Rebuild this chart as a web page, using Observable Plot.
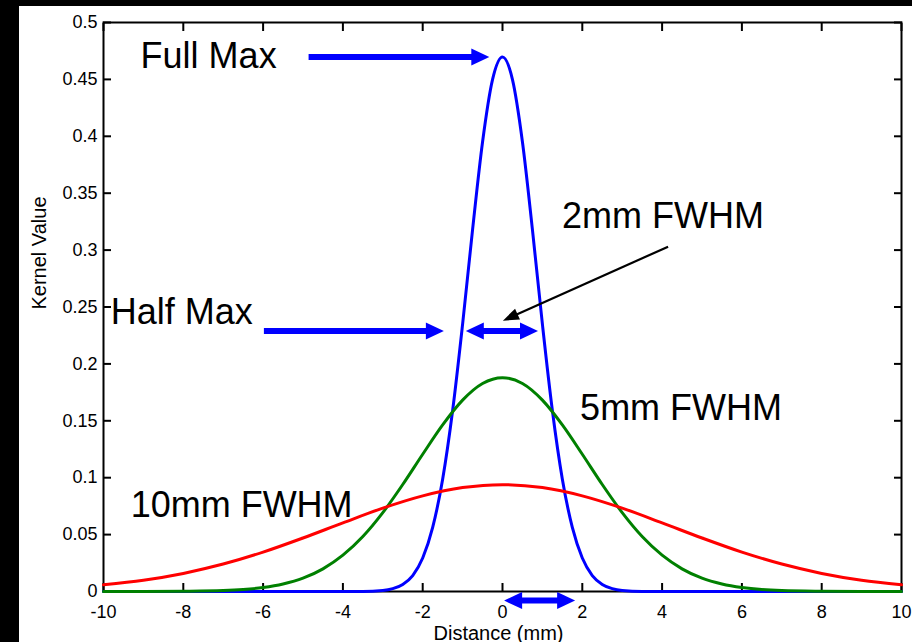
<!DOCTYPE html>
<html><head><meta charset="utf-8">
<script src="https://cdn.jsdelivr.net/npm/d3@7"></script>
<script src="https://cdn.jsdelivr.net/npm/@observablehq/plot@0.6"></script>
<style>
html,body{margin:0;padding:0;background:#000;width:912px;height:642px;overflow:hidden;}
#chart{position:absolute;left:19px;top:6px;}
</style></head><body><div id="chart"></div>
<script>
// ---- data ----
const blueX = [-10, -3.5, -3, -2.75, -2.5, -2.25, -2, -1.75, -1.5, -1.25, -1, -0.75, -0.5, -0.25, 0, 0.25, 0.5, 0.75, 1, 1.25, 1.5, 1.75, 2, 2.25, 2.5, 2.75, 3, 3.5, 10];
const blueY = [0, 0.0001, 0.0009, 0.0025, 0.0062, 0.0140, 0.0294, 0.0563, 0.0987, 0.1590, 0.2349, 0.3180, 0.3950, 0.4498, 0.4697, 0.4498, 0.3950, 0.3180, 0.2349, 0.1590, 0.0987, 0.0563, 0.0294, 0.0140, 0.0062, 0.0025, 0.0009, 0.0001, 0];
const greenX = [-10, -9, -8, -7, -6.5, -6, -5.5, -5, -4.5, -4, -3.5, -3, -2.5, -2, -1.5, -1, -0.5, 0, 0.5, 1, 1.5, 2, 2.5, 3, 3.5, 4, 4.5, 5, 5.5, 6, 6.5, 7, 8, 9, 10];
const greenY = [0, 0, 0.0002, 0.0008, 0.0017, 0.0035, 0.0066, 0.0117, 0.0199, 0.0319, 0.0483, 0.0693, 0.0940, 0.1206, 0.1464, 0.1682, 0.1828, 0.1879, 0.1828, 0.1682, 0.1464, 0.1206, 0.0940, 0.0693, 0.0483, 0.0319, 0.0199, 0.0117, 0.0066, 0.0035, 0.0017, 0.0008, 0.0002, 0, 0];
const redX = [-10, -9, -8, -7, -6, -5, -4, -3, -2, -1, 0, 1, 2, 3, 4, 5, 6, 7, 8, 9, 10];
const redY = [0.0059, 0.0099, 0.0159, 0.0241, 0.0346, 0.0470, 0.0603, 0.0732, 0.0840, 0.0913, 0.0939, 0.0913, 0.0840, 0.0732, 0.0603, 0.0470, 0.0346, 0.0241, 0.0159, 0.0099, 0.0059];

const xTicks = [-10, -8, -6, -4, -2, 0, 2, 4, 6, 8, 10];
const yTicks = [0, 0.05, 0.1, 0.15, 0.2, 0.25, 0.3, 0.35, 0.4, 0.45, 0.5];

const labelText = ["Full Max", "2mm FWHM", "Half Max", "5mm FWHM", "10mm FWHM"];
const labelX = [-9.07, 1.49, -9.82, 1.945, -9.32];
const labelY = [0.4596, 0.319, 0.2355, 0.151, 0.0659];

const fullMaxArrow = {x1: -4.86, x2: -0.33};
const halfMaxArrow = {x1: -5.98, x2: -1.47, y: 0.229};
const fwhmArrow = {x1: -0.92, x2: 0.89, y: 0.229};
const scaleArrow = {x1: 0.04, x2: 1.82, y: -0.008};
const pointer = {x1: 4.15, y1: 0.303, x2: 0.01, y2: 0.238};

// ---- layout ----
const W = 893, H = 636, ML = 84, MR = 11, MT = 16, MB = 51;
const FONT = "Liberation Sans, Arial, Helvetica, sans-serif";

const toRows = (xs, ys) => xs.map((x, i) => ({x, y: ys[i]}));
const blue = toRows(blueX, blueY), green = toRows(greenX, greenY), red = toRows(redX, redY);
fullMaxArrow.y = d3.max(blueY);
const labels = labelText.map((t, i) => ({t, x: labelX[i], y: labelY[i]}));
const fmt = d => String(d);

function tri(L, Wd) {
  return {draw(ctx) { ctx.moveTo(0, 0); ctx.lineTo(-L, -Wd / 2); ctx.lineTo(-L, Wd / 2); ctx.closePath(); }};
}
const blueHead = tri(18, 17), blackHead = tri(16, 12);
const kx = (W - ML - MR) / 20, ky = (H - MT - MB) / 0.5;
const pointerAngle = Math.atan2(-(pointer.y2 - pointer.y1) * ky, (pointer.x2 - pointer.x1) * kx) * 180 / Math.PI;

const rightHeads = [fullMaxArrow, halfMaxArrow, fwhmArrow, scaleArrow].map(a => ({x: a.x2, y: a.y}));
const leftHeads = [fwhmArrow, scaleArrow].map(a => ({x: a.x1, y: a.y}));

const BLUE = "#0000ff", GREEN = "#008000", RED = "#ff0000";

const chart = Plot.plot({
  width: W, height: H,
  marginLeft: ML, marginRight: MR, marginTop: MT, marginBottom: MB,
  style: {background: "white", fontFamily: FONT, color: "black", overflow: "visible"},
  x: {domain: [-10, 10]},
  y: {domain: [0, 0.5]},
  marks: [
    Plot.frame({stroke: "black", strokeWidth: 2}),
    // tick labels
    Plot.axisX({ticks: xTicks, anchor: "bottom", tickSize: 0, tickPadding: 14, tickFormat: fmt, fontSize: 18, label: null}),
    Plot.axisY({ticks: yTicks, anchor: "left", tickSize: 0, tickPadding: 6, tickFormat: fmt, fontSize: 18, label: null}),
    // inner ticks on all four sides
    Plot.axisX({ticks: xTicks, anchor: "bottom", tickSize: 8, dy: -8, fill: "none", label: null, strokeWidth: 2}),
    Plot.axisX({ticks: xTicks, anchor: "top", tickSize: 8, dy: 8, fill: "none", label: null, strokeWidth: 2}),
    Plot.axisY({ticks: yTicks, anchor: "left", tickSize: 8, dx: 8, fill: "none", label: null, strokeWidth: 2}),
    Plot.axisY({ticks: yTicks, anchor: "right", tickSize: 8, dx: -8, fill: "none", label: null, strokeWidth: 2}),
    // axis titles
    Plot.text(["Distance (mm)"], {frameAnchor: "bottom", lineAnchor: "bottom", dy: 48, dx: -4, fontSize: 20, fill: "black"}),
    Plot.text(["Kernel Value"], {frameAnchor: "left", rotate: -90, lineAnchor: "bottom", dx: -58, dy: 2.5, fontSize: 20, fill: "black"}),
    // curves
    Plot.line(blue, {x: "x", y: "y", stroke: BLUE, strokeWidth: 3, curve: "monotone-x"}),
    Plot.line(green, {x: "x", y: "y", stroke: GREEN, strokeWidth: 3, curve: "monotone-x"}),
    Plot.line(red, {x: "x", y: "y", stroke: RED, strokeWidth: 3, curve: "monotone-x"}),
    // annotation arrows
    Plot.arrow([fullMaxArrow, halfMaxArrow], {x1: "x1", x2: "x2", y1: "y", y2: "y", stroke: BLUE, strokeWidth: 6, headLength: 0, insetEnd: 15, strokeLinecap: "butt"}),
    Plot.arrow([fwhmArrow, scaleArrow], {x1: "x1", x2: "x2", y1: "y", y2: "y", stroke: BLUE, strokeWidth: 6, headLength: 0, insetStart: 15, insetEnd: 15, strokeLinecap: "butt"}),
    Plot.dot(rightHeads, {x: "x", y: "y", symbol: blueHead, fill: BLUE, stroke: "none", rotate: 0}),
    Plot.dot(leftHeads, {x: "x", y: "y", symbol: blueHead, fill: BLUE, stroke: "none", rotate: 180}),
    Plot.arrow([pointer], {x1: "x1", y1: "y1", x2: "x2", y2: "y2", stroke: "black", strokeWidth: 2.2, headLength: 0, insetEnd: 12, strokeLinecap: "butt"}),
    Plot.dot([pointer], {x: "x2", y: "y2", symbol: blackHead, fill: "black", stroke: "none", rotate: pointerAngle}),
    // annotation labels
    Plot.text(labels, {x: "x", y: "y", text: "t", textAnchor: "start", lineAnchor: "bottom", fontSize: 36, fill: "black", fontFamily: FONT})
  ]
});
document.getElementById("chart").appendChild(chart);
</script>
</body></html>
